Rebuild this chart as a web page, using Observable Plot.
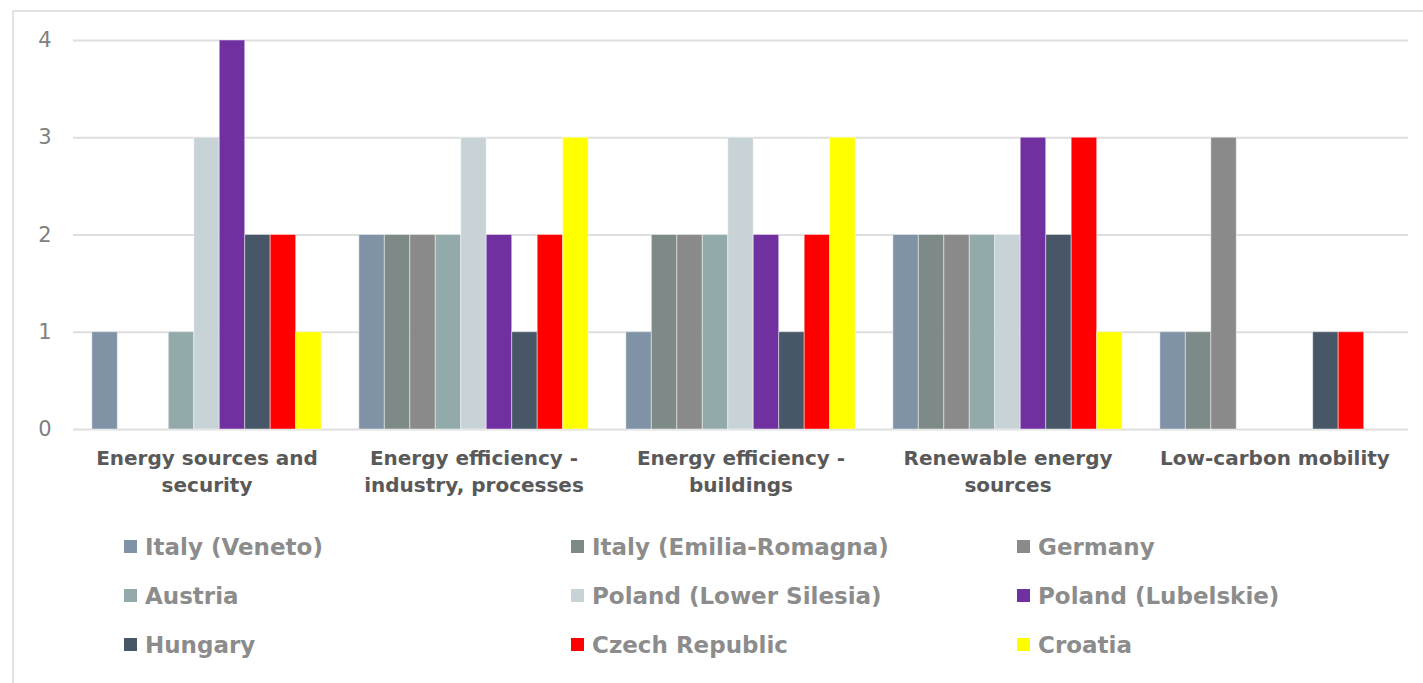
<!DOCTYPE html>
<html>
<head>
<meta charset="utf-8">
<script src="https://cdn.jsdelivr.net/npm/d3@7"></script>
<script src="https://cdn.jsdelivr.net/npm/@observablehq/plot@0.6"></script>
<style>
  html, body { margin: 0; padding: 0; background: #fff; width: 1423px; height: 683px; overflow: hidden; }
  #frame { position: absolute; left: 12px; top: 10px; width: 1420px; height: 700px; border-left: 2px solid #e3e3e3; border-top: 2px solid #e3e3e3; box-sizing: border-box; }
  #chart { position: absolute; left: 0; top: 0; }
  #legend { position: absolute; left: 124px; top: 522px; display: grid; grid-template-columns: 447px 446px 400px; grid-auto-rows: 49px; font-family: "DejaVu Sans", sans-serif; font-weight: bold; font-size: 23px; color: #8c8c8c; }
  .item { display: flex; align-items: center; white-space: nowrap; }
  .sw { width: 13px; height: 13px; margin-right: 8px; flex: none; }
</style>
</head>
<body>
<div id="frame"></div>
<div id="chart"></div>
<div id="legend"></div>
<script>
const categories = [
  "Energy sources and\nsecurity",
  "Energy efficiency -\nindustry, processes",
  "Energy efficiency -\nbuildings",
  "Renewable energy\nsources",
  "Low-carbon mobility"
];
const series = [
  "Italy (Veneto)", "Italy (Emilia-Romagna)", "Germany",
  "Austria", "Poland (Lower Silesia)", "Poland (Lubelskie)",
  "Hungary", "Czech Republic", "Croatia"
];
const colors = ["#7f92a6", "#7d8a88", "#8a8a8a", "#92abaa", "#c8d3d8", "#7030a0", "#475767", "#ff0000", "#ffff00"];
// values[categoryIndex][seriesIndex]
const values = [
  [1, 0, 0, 1, 3, 4, 2, 2, 1],
  [2, 2, 2, 2, 3, 2, 1, 2, 3],
  [1, 2, 2, 2, 3, 2, 1, 2, 3],
  [2, 2, 2, 2, 2, 3, 2, 3, 1],
  [1, 1, 3, 0, 0, 0, 1, 1, 0]
];
const yTicks = [0, 1, 2, 3, 4];

const data = [];
categories.forEach((c, i) => series.forEach((s, j) => {
  data.push({category: c, series: s, value: values[i][j]});
}));

const chart = Plot.plot({
  width: 1423,
  height: 510,
  marginLeft: 73,
  marginRight: 15,
  marginTop: 40,
  marginBottom: 81,
  style: {fontFamily: "DejaVu Sans, sans-serif", background: "transparent"},
  fx: {domain: categories, padding: 0, round: false},
  x: {domain: series, paddingInner: 0, paddingOuter: 0.74, round: false, axis: null},
  y: {domain: [0, 4], axis: null},
  color: {domain: series, range: colors},
  marks: [
    Plot.gridY(yTicks, {stroke: "#dedede", strokeWidth: 2, strokeOpacity: 1}),
    Plot.barY(data.filter(d => d.value > 0), {
      fx: "category", x: "series", y: "value", fill: "series",
      stroke: "#ffffff", strokeOpacity: 0.45, strokeWidth: 1
    }),
    Plot.axisY(yTicks, {tickSize: 0, tickPadding: 22, fontSize: 21, fill: "#7f7f7f", tickFormat: d => d, label: null}),
    Plot.axisFx({anchor: "bottom", tickSize: 0, tickPadding: 17, fontSize: 20, fontWeight: "bold", fill: "#595959", lineHeight: 1.33, label: null})
  ]
});
document.getElementById("chart").appendChild(chart);

const legend = document.getElementById("legend");
series.forEach((s, j) => {
  const item = document.createElement("div");
  item.className = "item";
  const sw = document.createElement("span");
  sw.className = "sw";
  sw.style.background = colors[j];
  const t = document.createElement("span");
  t.textContent = s;
  item.appendChild(sw);
  item.appendChild(t);
  legend.appendChild(item);
});
</script>
</body>
</html>
